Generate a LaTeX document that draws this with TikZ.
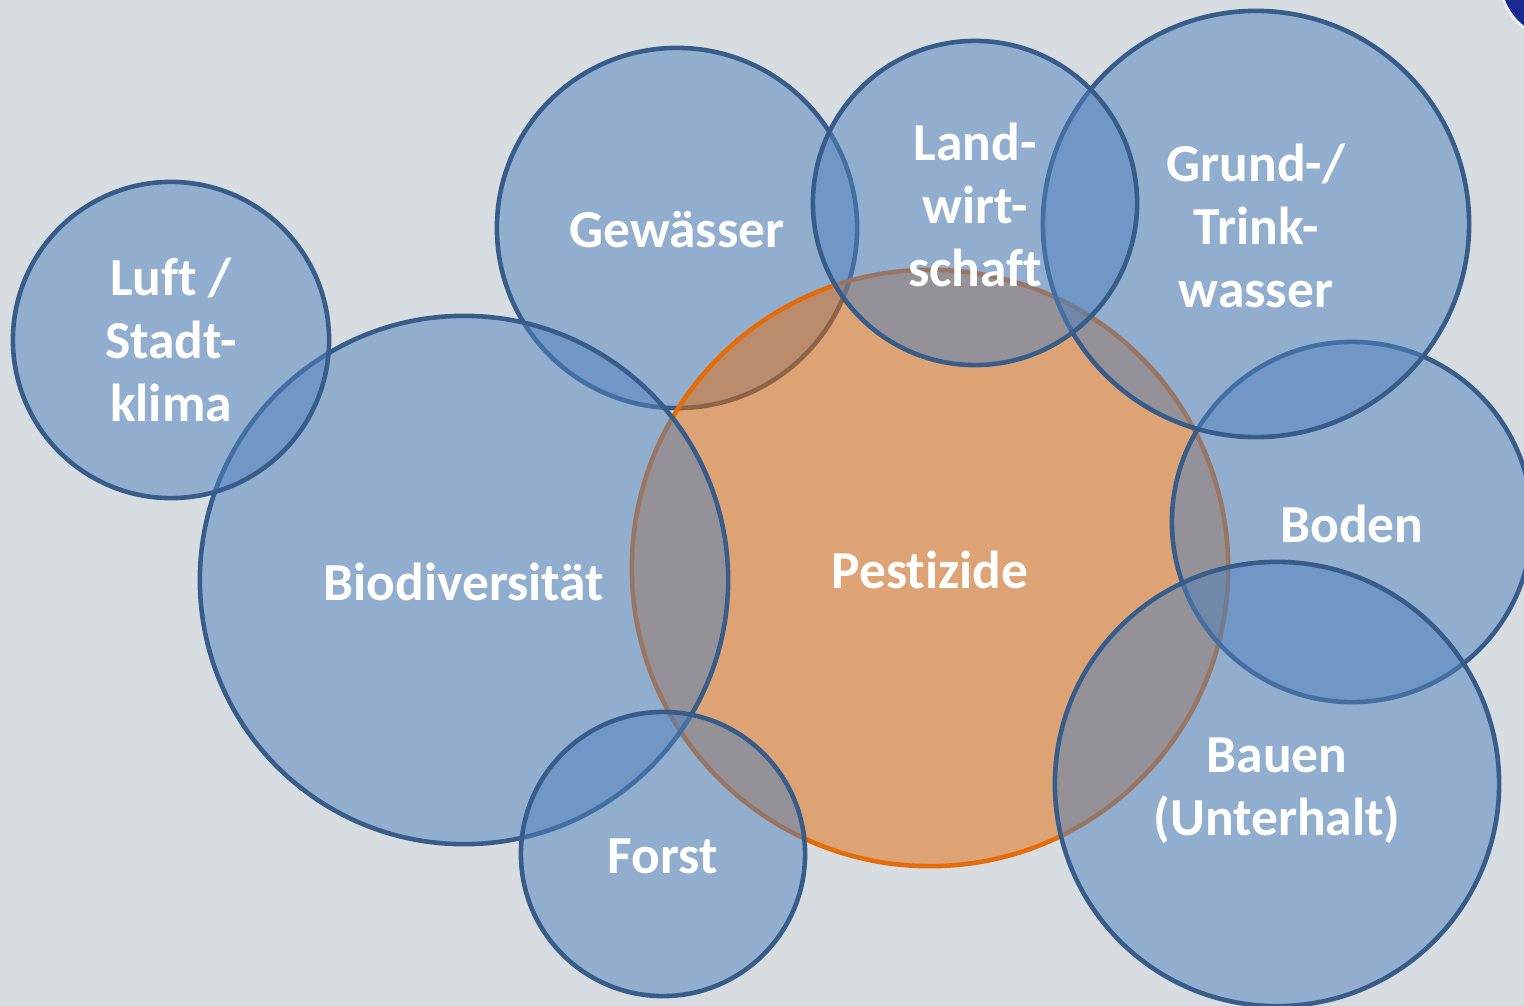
\documentclass[tikz,border=0pt]{standalone}
\usepackage{fontspec}
\setmainfont{Carlito}[Ligatures=NoCommon]
\definecolor{backgray}{HTML}{D7DCE0}
\definecolor{bubbleblue}{HTML}{4F81BD}
\definecolor{bubbleline}{HTML}{385D8A}
\definecolor{pestorange}{HTML}{E46C0A}
\definecolor{logoblue}{HTML}{1B2A8F}
\tikzset{
  bubble/.style={circle, inner sep=0pt, draw=bubbleline, line width=1.3pt, fill=bubbleblue, fill opacity=0.5, draw opacity=1},
  pestbubble/.style={bubble, draw=pestorange, fill=pestorange},
  bubbletext/.style={text=white, text opacity=1, align=center, yshift=-0.02cm, font=\fontsize{15.2}{17.9}\selectfont\bfseries}
}

\begin{document}
\begin{tikzpicture}[x=0.01cm, y=-0.01cm]
			%%%%% START %%%%%
			
			\useasboundingbox (0, 0) rectangle (1524, 1006);
			\fill[backgray] (0, 0) rectangle (1524, 1006);
			
			% corner of the logo, top right
			\begin{scope}
				\clip (0, 0) rectangle (1524, 1006);
				\fill[white, opacity=0.5] (1562, -22) circle (0.64cm);
				\fill[logoblue] (1562, -22) circle (0.61cm);
			\end{scope}
			
			% bubbles, in drawing order
			\node[bubble, minimum size=3.60cm] (gewaesser) at (677, 228) {};
			\node[pestbubble, minimum size=5.96cm] (pestizide) at (930, 568) {};
			\node[bubble, minimum size=3.60cm] (boden) at (1352, 522) {};
			\node[bubble, minimum size=4.26cm] (grundwasser) at (1256, 224) {};
			\node[bubble, minimum size=3.24cm] (landwirtschaft) at (975, 203) {};
			\node[bubble, minimum size=4.44cm] (bauen) at (1277, 784) {};
			\node[bubble, minimum size=5.28cm] (biodiversitaet) at (464, 580) {};
			\node[bubble, minimum size=3.16cm] (luft) at (171, 340) {};
			\node[bubble, minimum size=2.84cm] (forst) at (663, 854) {};
			
			% labels
			\node[bubbletext] (gewaesserText) at (gewaesser) {Gewässer};
			\node[bubbletext] (pestizideText) at (pestizide) {Pestizide};
			\node[bubbletext] (bodenText) at (boden) {Boden};
			\node[bubbletext] (grundwasserText) at (grundwasser) {Grund-/\\Trink-\\wasser};
			\node[bubbletext] (landwirtschaftText) at (landwirtschaft) {Land-\\wirt-\\schaft};
			\node[bubbletext, yshift=-0.05cm] (bauenText) at (bauen) {Bauen\\(Unterhalt)};
			\node[bubbletext] (biodiversitaetText) at (biodiversitaet) {Biodiversität};
			\node[bubbletext, yshift=0.02cm] (luftText) at (luft) {Luft /\\Stadt-\\klima};
			\node[bubbletext] (forstText) at (forst) {Forst};
			
			%%%%% END %%%%%
\end{tikzpicture}
\end{document}
